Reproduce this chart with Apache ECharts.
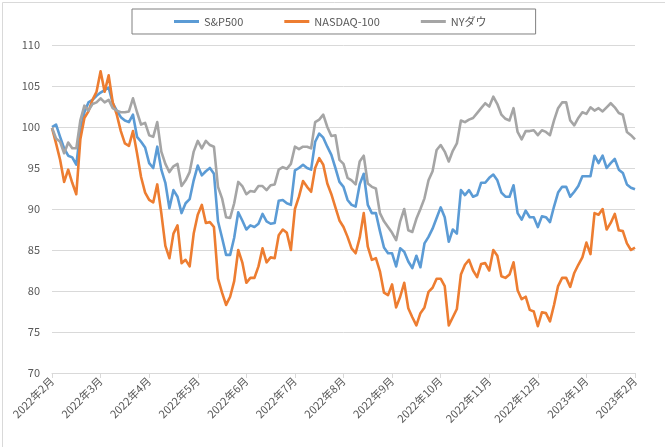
<!DOCTYPE html>
<html>
<head>
<meta charset="utf-8">
<script src="https://cdn.jsdelivr.net/npm/echarts@6/dist/echarts.min.js"></script>
<style>
html,body{margin:0;padding:0;background:#fff;}
#chart{width:665px;height:447px;}
</style>
</head>
<body>
<div id="chart"></div>
<script>
// Month tick labels (one every 12 samples)
const monthLabels = ['2022年2月','2022年3月','2022年4月','2022年5月','2022年6月','2022年7月','2022年8月','2022年9月','2022年10月','2022年11月','2022年12月','2023年1月','2023年2月'];
const samplesPerMonth = 12;
const seriesNames = ['S&P500','NASDAQ-100','NYダウ'];
const yTicks = [70, 75, 80, 85, 90, 95, 100, 105, 110];

const sp500 = [
100,100.3,98.8,97.4,96.5,96.3,95.4,99.5,101.8,103,103.3,103.8,
104.2,104.5,104.8,102.9,102,101.2,100.8,100.6,101.5,98.8,98.2,97.5,
95.6,95,97.6,94.8,93.2,90.1,92.3,91.5,89.5,90.7,91.2,93.5,
95.3,94.1,94.6,95,94.3,88.5,86.5,84.4,84.4,86.5,89.6,88.6,
87.5,88,87.8,88.2,89.4,88.5,88.2,88.3,91,91.1,90.7,90.5,
94.7,95,95.4,95,94.8,98.2,99.2,98.7,97.6,96.6,95,93.3,
92.7,91.1,90.5,90.3,93,94.3,90.5,89.5,89.5,87.3,85.3,84.6,
84.6,83,85.2,84.8,83.6,82.8,84.3,82.9,85.8,86.6,87.6,88.9,
90.2,89,86,87.5,87,92.3,91.7,92.3,91.5,91.7,93.2,93.2,
93.8,94.2,93.5,92,91.5,91.5,92.9,89.5,88.7,89.8,89,89,
87.8,89.1,89,88.4,90.3,92,92.7,92.7,91.5,92.1,92.8,94,
94,94,96.5,95.6,96.5,95,95.6,96.1,94.8,94.4,93,92.6,
92.4
];
const nasdaq100 = [
99.9,98,96,93.3,94.8,93.2,91.8,98.5,101.1,101.9,103.3,104.3,
106.8,104.3,106.3,103,101.5,99.5,98,97.7,99.5,96.8,93.9,92,
91.1,90.8,93,89.5,85.5,84,87,88,83.4,83.8,83,87,
89.3,90.5,88.3,88.4,87.8,81.5,79.8,78.3,79.3,81.2,85,83.5,
81,81.6,81.6,83,85.2,83.5,84.1,84,86.8,87.5,87.1,85,
90,91.5,93.4,92.7,92.1,95,96.2,95.4,93.1,91.8,90.2,88.6,
87.8,86.6,85.2,84.6,86.5,89.5,85.4,83.8,84,82.4,79.8,79.5,
80.8,78,79.3,81,77.9,76.8,75.8,77.3,78,79.9,80.4,81.5,
81.5,80.6,75.8,76.8,77.8,82,83.2,83.8,82.5,81.7,83.3,83.4,
82.5,85,84.3,81.8,81.6,82,83.5,80.1,79,79.3,77.7,77.5,
75.7,77.4,77.3,76.3,78.3,80.6,81.6,81.6,80.5,82.2,83.2,84.1,
85.9,84.5,89.5,89.3,90,87.5,88.3,89.4,87.4,87.3,85.8,85,
85.3
];
const nyDow = [
99.9,98.6,98.2,96.8,98.1,97.4,97.4,100.8,102.6,102,102.8,103,
103.5,103,103.3,102.3,102,101.8,101.8,101.9,103.5,101.8,100.3,100.5,
99,98.8,100.6,97,95.5,94.5,95.2,95.5,92.8,93.5,94.5,97,
98.3,97.4,98.3,97.8,97.6,92.7,91.3,89,88.9,90.7,93.3,92.8,
91.8,92.2,92.1,92.8,92.8,92.3,92.9,93,94.8,95.1,94.9,95.5,
97.6,97.3,97.6,97.6,97.4,100.6,100.9,101.5,100,98.9,99,96,
95.5,93.8,93.5,93,95.8,96.5,93.1,92.7,92.5,89.5,88.5,87.8,
87.1,86.2,88.5,90,87.4,87.2,88.8,90,91.3,93.5,94.6,97.2,
97.8,97,95.8,97.1,98,100.8,100.6,100.9,101.1,101.7,102.3,102.9,
102.5,103.7,102.8,101.5,101,100.8,102.3,99.4,98.5,99.5,99.5,99.6,
99,99.6,99.4,99,100.8,102.3,103,103,100.8,100.2,101.1,101.8,
101.6,102.4,102,102.3,101.9,102.4,102.9,102.4,101.7,101.5,99.4,99,
98.5
];

const categories = sp500.map((_, i) =>
  i % samplesPerMonth === 0 ? monthLabels[i / samplesPerMonth] : monthLabels[Math.floor(i / samplesPerMonth)] + '#' + i);

const chart = echarts.init(document.getElementById('chart'), null, {renderer: 'canvas'});
const font = '"Noto Sans CJK JP", "Noto Sans", sans-serif';
const showTick = (i) => i % samplesPerMonth === 0;

chart.setOption({
  animation: false,
  backgroundColor: '#ffffff',
  textStyle: {fontFamily: font},
  color: ['#5B9BD5', '#ED7D31', '#A5A5A5'],
  graphic: [{
    type: 'rect', left: 0, top: 0, silent: true,
    shape: {x: 0.5, y: 0.5, width: 664, height: 446},
    style: {fill: 'none', stroke: '#D9D9D9', lineWidth: 1}
  }],
  legend: {
    data: seriesNames,
    left: 132, top: 9,
    padding: [7, 49, 7, 42],
    itemGap: 41,
    itemWidth: 25, itemHeight: 3,
    icon: 'rect',
    borderColor: '#808080', borderWidth: 1,
    textStyle: {color: '#595959', fontSize: 11, fontFamily: font}
  },
  grid: {left: 52, right: 30, top: 45, bottom: 74, containLabel: false},
  xAxis: {
    type: 'category',
    data: categories,
    boundaryGap: false,
    axisLine: {lineStyle: {color: '#D9D9D9', width: 1}},
    axisTick: {show: true, interval: showTick, length: 5, lineStyle: {color: '#D9D9D9'}},
    axisLabel: {
      interval: showTick, rotate: 45, color: '#595959', fontSize: 11, margin: 6,
      fontFamily: font,
      formatter: (v) => v.indexOf('#') >= 0 ? '' : v
    },
    splitLine: {show: false}
  },
  yAxis: {
    type: 'value',
    min: yTicks[0], max: yTicks[yTicks.length - 1], interval: 5,
    axisLine: {show: false},
    axisTick: {show: false},
    axisLabel: {color: '#595959', fontSize: 11, margin: 12, fontFamily: font},
    splitLine: {lineStyle: {color: '#D9D9D9', width: 1}}
  },
  series: [
    {name: seriesNames[0], type: 'line', data: sp500, showSymbol: false, symbol: 'none', lineStyle: {width: 2.6, join: 'round'}},
    {name: seriesNames[1], type: 'line', data: nasdaq100, showSymbol: false, symbol: 'none', lineStyle: {width: 2.6, join: 'round'}},
    {name: seriesNames[2], type: 'line', data: nyDow, showSymbol: false, symbol: 'none', lineStyle: {width: 2.6, join: 'round'}}
  ]
});
</script>
</body>
</html>
